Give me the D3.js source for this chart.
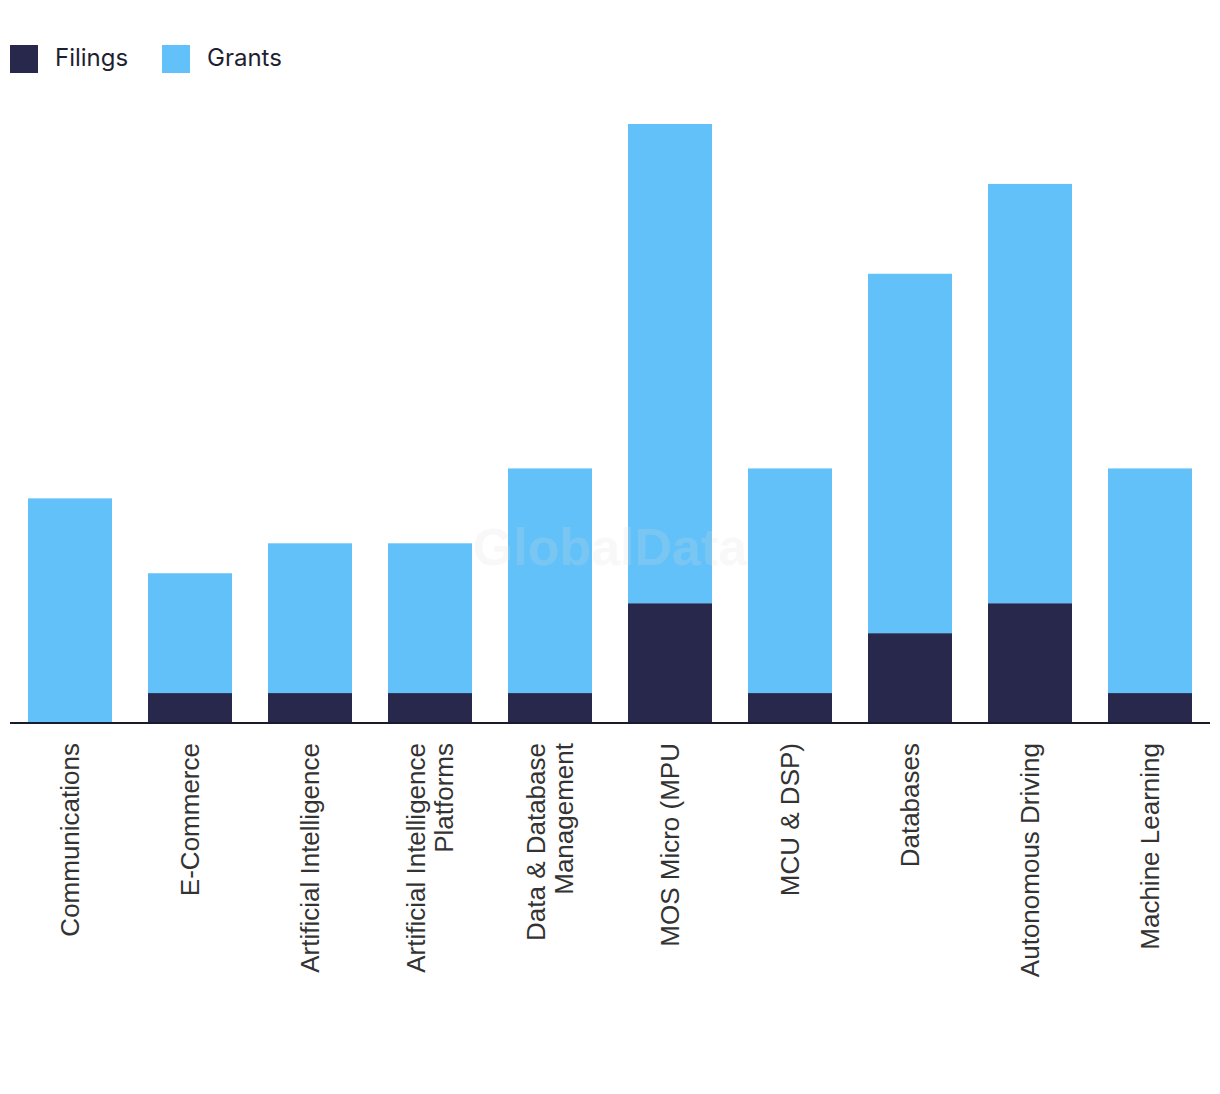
<!DOCTYPE html>
<html><head><meta charset="utf-8">
<script src="https://cdn.jsdelivr.net/npm/d3@7"></script>
<style>body{margin:0;background:#fff;}svg{display:block;}</style>
</head><body>
<svg id="chart" width="1220" height="1094"></svg>
<script>
const categories = ["Communications","E-Commerce","Artificial Intelligence","Artificial Intelligence Platforms","Data & Database Management","MOS Micro (MPU","MCU & DSP)","Databases","Autonomous Driving","Machine Learning"];
const labelLines = [["Communications"],["E-Commerce"],["Artificial Intelligence"],["Artificial Intelligence","Platforms"],["Data & Database","Management"],["MOS Micro (MPU"],["MCU & DSP)"],["Databases"],["Autonomous Driving"],["Machine Learning"]];
const filings = [0,2,2,2,2,8,2,6,8,2];
const grants  = [15,8,10,10,15,32,15,24,28,15];
const seriesNames = ["Filings","Grants"];
const colors = ["#27284b","#62c1f9"];

const svg = d3.select("#chart");
const x = d3.scaleBand().domain(categories).range([10,1210]).paddingInner(0.3).paddingOuter(0.15);
const y = d3.scaleLinear().domain([0,40]).range([723,124]);

const rows = categories.map((c,i)=>({cat:c, Filings:filings[i], Grants:grants[i]}));
const stack = d3.stack().keys(seriesNames)(rows);

svg.append("g").selectAll("g").data(stack).join("g")
  .attr("fill",(d,i)=>colors[i])
  .selectAll("rect").data(d=>d).join("rect")
  .attr("x",d=>x(d.data.cat)).attr("width",x.bandwidth())
  .attr("y",d=>y(d[1])).attr("height",d=>y(d[0])-y(d[1]));

// axis
const axis = svg.append("g").attr("transform","translate(0,723)")
  .call(d3.axisBottom(x).tickSize(0).tickFormat(""));
axis.select(".domain").attr("stroke","#1a1a2e").attr("stroke-width",2).attr("d","M10,0H1210");

const lab = svg.append("g");
categories.forEach((c,i)=>{
  const lines = labelLines[i];
  const cx = x(c)+x.bandwidth()/2;
  const n = lines.length;
  lines.forEach((t,j)=>{
    const off = (j-(n-1)/2)*28;
    lab.append("text")
      .attr("transform",`translate(${cx+off+9},743) rotate(-90)`)
      .attr("text-anchor","end")
      .attr("font-family","'Liberation Sans', Arial, sans-serif")
      .attr("font-size",26).attr("fill","#333")
      .text(t);
  });
});

// legend
const leg = svg.append("g");
const legX = [10,162];
seriesNames.forEach((s,i)=>{
  leg.append("rect").attr("x",legX[i]).attr("y",45).attr("width",28).attr("height",28).attr("fill",colors[i]);
  leg.append("text").attr("x",legX[i]+45).attr("y",66)
    .attr("font-family","Inter, 'Open Sans', sans-serif").attr("font-size",24).attr("fill","#1f1f33")
    .text(s);
});

// watermark
svg.append("text").attr("x",610).attr("y",565).attr("text-anchor","middle")
  .attr("font-family","'Liberation Sans', Arial, sans-serif").attr("font-weight","bold")
  .attr("font-size",52).attr("fill","rgb(220,220,220)").attr("fill-opacity",0.2)
  .text("GlobalData");
</script>
</body></html>
